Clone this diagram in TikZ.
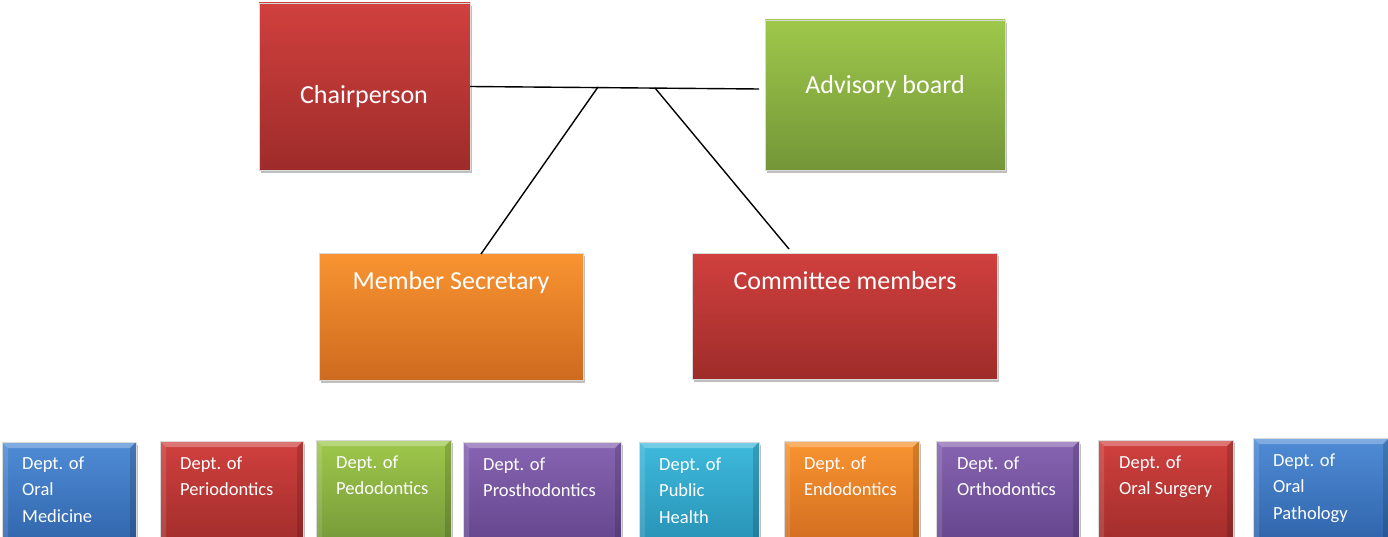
\documentclass[tikz,border=0pt]{standalone}
\usepackage{fontspec}
\setmainfont{Carlito}
\usetikzlibrary{shadows}
\definecolor{redT}{RGB}{208,64,62}\definecolor{redB}{RGB}{158,44,42}
\definecolor{grnT}{RGB}{158,200,75}\definecolor{grnB}{RGB}{116,150,56}
\definecolor{orgT}{RGB}{249,148,49}\definecolor{orgB}{RGB}{206,106,30}
\definecolor{bluT}{RGB}{79,140,214}\definecolor{bluB}{RGB}{46,98,168}
\definecolor{purT}{RGB}{135,100,178}\definecolor{purB}{RGB}{98,68,138}
\definecolor{cyaT}{RGB}{62,186,220}\definecolor{cyaB}{RGB}{38,143,178}
\tikzset{
  box/.style={draw=white!85!black, line width=0.4pt, inner sep=0pt, outer sep=0pt, anchor=north west,
    drop shadow={shadow xshift=2pt, shadow yshift=-3pt, opacity=0.25, fill=black}},
  redbox/.style={box, top color=redT, bottom color=redB},
  grnbox/.style={box, top color=grnT, bottom color=grnB},
  orgbox/.style={box, top color=orgT, bottom color=orgB},
  blubox/.style={box, top color=bluT, bottom color=bluB},
  purbox/.style={box, top color=purT, bottom color=purB},
  cyabox/.style={box, top color=cyaT, bottom color=cyaB},
  bevel/.style={path picture={
    \coordinate (NW) at (path picture bounding box.north west);
    \coordinate (NE) at (path picture bounding box.north east);
    \coordinate (SW) at (path picture bounding box.south west);
    \coordinate (SE) at (path picture bounding box.south east);
    \fill[white,opacity=.28] (NW)--(NE)--([xshift=-6pt,yshift=-6pt]NE)--([xshift=6pt,yshift=-6pt]NW)--cycle;
    \fill[white,opacity=.12] (NW)--([xshift=6pt,yshift=-6pt]NW)--([xshift=6pt,yshift=6pt]SW)--(SW)--cycle;
    \fill[black,opacity=.15] (NE)--(SE)--([xshift=-6pt,yshift=6pt]SE)--([xshift=-6pt,yshift=-6pt]NE)--cycle;
    \fill[black,opacity=.22] (SW)--(SE)--([xshift=-6pt,yshift=6pt]SE)--([xshift=6pt,yshift=6pt]SW)--cycle;
  }},
  dept/.style={bevel, minimum height=110pt},
  bigtxt/.style={text=white, font=\fontsize{26}{30}\selectfont, anchor=base, inner sep=0pt},
  smalltxt/.style={text=white, font=\fontsize{18.5}{26.5}\selectfont, anchor=base west, align=left, inner sep=0pt},
  conn/.style={line width=1.4pt, black}
}
\begin{document}
\begin{tikzpicture}[x=1pt,y=-1pt]
\clip (0,0) rectangle (1388,537);
\fill[white] (0,0) rectangle (1388,537);
% top boxes
\node[redbox, minimum width=211pt, minimum height=167pt] (chair) at (259,3) {};
\node[grnbox, minimum width=240pt, minimum height=150pt] (adv) at (765,20) {};
\node[orgbox, minimum width=264pt, minimum height=127pt] (sec) at (319,253) {};
\node[redbox, minimum width=305pt, minimum height=126pt] (com) at (692,253) {};
\node[bigtxt] (chairT) at (364,104) {Chairperson};
\node[bigtxt] (advT) at (885,94) {Advisory board};
\node[bigtxt] (secT) at (451,289) {Member Secretary};
\node[bigtxt] (comT) at (845,289) {Committee members};
% connectors
\coordinate (hend) at (759,89);
\coordinate (j1) at (598,87);
\coordinate (j2) at (655,88);
\coordinate (s1) at (481,254);
\coordinate (c1) at (789,249);
\draw[conn] (chair.east) -- (hend);
\draw[conn] (j1) -- (s1);
\draw[conn] (j2) -- (c1);
% departments
\node[blubox, dept, minimum width=134pt] (d1) at (2,442) {};
\node[redbox, dept, minimum width=143pt] (d2) at (160,441) {};
\node[grnbox, dept, minimum width=135pt] (d3) at (316,440) {};
\node[purbox, dept, minimum width=158pt] (d4) at (463,442) {};
\node[cyabox, dept, minimum width=120pt] (d5) at (639,442) {};
\node[orgbox, dept, minimum width=135pt] (d6) at (784,441) {};
\node[purbox, dept, minimum width=143pt] (d7) at (936,441) {};
\node[redbox, dept, minimum width=135pt] (d8) at (1098,440) {};
\node[blubox, dept, minimum width=136pt] (d9) at (1253,438) {};
% anchors are at the baseline of the last line
\node[smalltxt] (t1) at (22,522) {Dept. of\\Oral\\Medicine};
\node[smalltxt] (t2) at (180,495.5) {Dept. of\\Periodontics};
\node[smalltxt] (t3) at (336,494.5) {Dept. of\\Pedodontics};
\node[smalltxt] (t4) at (483,496.5) {Dept. of\\Prosthodontics};
\node[smalltxt] (t5) at (659,523) {Dept. of\\Public\\Health};
\node[smalltxt] (t6) at (804,495.5) {Dept. of\\Endodontics};
\node[smalltxt] (t7) at (957,495.5) {Dept. of\\Orthodontics};
\node[smalltxt] (t8) at (1119,494.5) {Dept. of\\Oral Surgery};
\node[smalltxt] (t9) at (1273,519) {Dept. of\\Oral\\Pathology};
\end{tikzpicture}
\end{document}
